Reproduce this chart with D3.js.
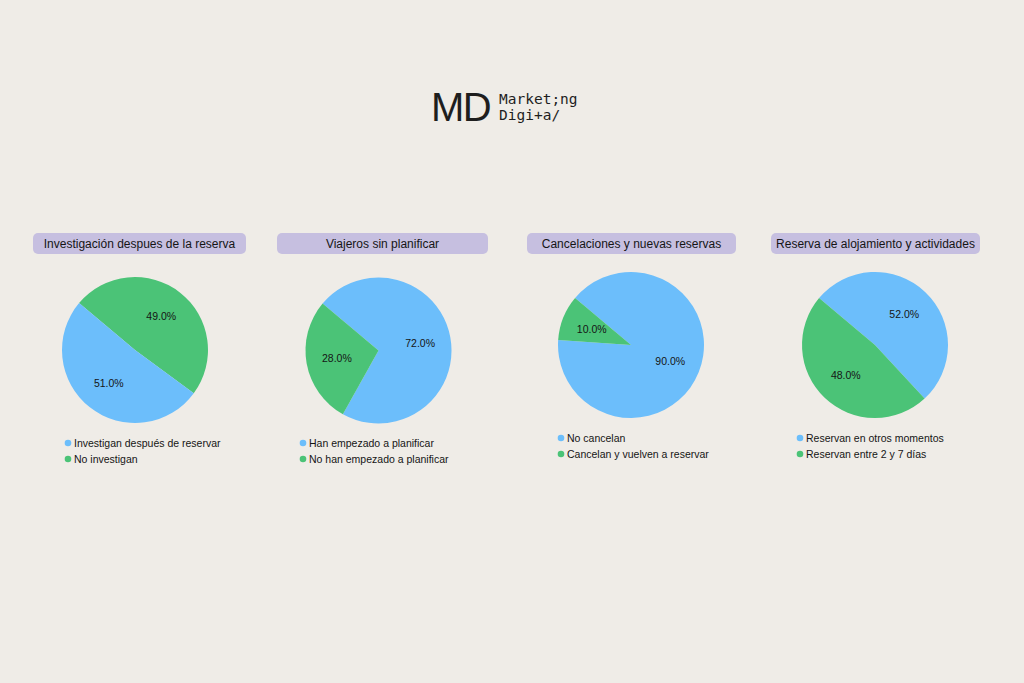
<!DOCTYPE html>
<html><head><meta charset="utf-8">
<script src="https://cdn.jsdelivr.net/npm/d3@7"></script>
<style>html,body{margin:0;padding:0;background:#efece7;}svg{display:block;}</style>
</head><body>
<svg id="c" width="1024" height="683"></svg>
<script>
const titles = ["Investigación despues de la reserva","Viajeros sin planificar","Cancelaciones y nuevas reservas","Reserva de alojamiento y actividades"];
const labelsA = ["Investigan después de reservar","Han empezado a planificar","No cancelan","Reservan en otros momentos"];
const labelsB = ["No investigan","No han empezado a planificar","Cancelan y vuelven a reservar","Reservan entre 2 y 7 días"];
const valuesA = [51,72,90,52];
const valuesB = [49,28,10,48];
const drawBFirst = [true,false,false,false];
const colors = ["#6cbefb","#4bc377"];

const layout = [
  {cx:135, cy:350, bx:33, bw:213, lx:68, ly:443},
  {cx:378.5, cy:350.5, bx:277, bw:211, lx:303, ly:443},
  {cx:631, cy:345, bx:527, bw:209, lx:561, ly:438},
  {cx:875, cy:345, bx:771, bw:209, lx:800, ly:438}
];
const R = 73;
const svg = d3.select("#c");
const font = "'Liberation Sans', Arial, sans-serif";

// logo
const logo = svg.append("g");
logo.append("text").attr("x",431).attr("y",121).attr("font-family",font).attr("font-size",40).attr("letter-spacing",-1.5).attr("fill","#1e1e1e").text("MD");
logo.append("text").attr("x",499).attr("y",104).attr("font-family","'DejaVu Sans Mono', monospace").attr("font-size",14.5).attr("fill","#1e1e1e").text("Market;ng");
logo.append("text").attr("x",499).attr("y",120).attr("font-family","'DejaVu Sans Mono', monospace").attr("font-size",14.5).attr("fill","#1e1e1e").text("Digi+a/");

const pie = d3.pie().sort(null).startAngle(-50*Math.PI/180).endAngle(-50*Math.PI/180 + 2*Math.PI);
const arc = d3.arc().innerRadius(0).outerRadius(R);
const labelArc = d3.arc().innerRadius(R*0.58).outerRadius(R*0.58);

titles.forEach((t,i)=>{
  const L = layout[i];
  const g = svg.append("g");
  g.append("rect").attr("x",L.bx).attr("y",233).attr("width",L.bw).attr("height",21).attr("rx",5).attr("fill","#c6bfe0");
  g.append("text").attr("x",L.bx+L.bw/2).attr("y",247.5).attr("text-anchor","middle").attr("font-family",font).attr("font-size",12).attr("fill","#151515").text(t);
  let data = [{v:valuesA[i],c:colors[0]},{v:valuesB[i],c:colors[1]}];
  if (drawBFirst[i]) data = data.reverse();
  const arcs = pie.value(d=>d.v)(data);
  const pg = g.append("g").attr("transform",`translate(${L.cx},${L.cy})`);
  pg.selectAll("path").data(arcs).join("path").attr("d",arc).attr("fill",d=>d.data.c);
  pg.selectAll("text").data(arcs).join("text")
    .attr("transform",d=>`translate(${labelArc.centroid(d)})`)
    .attr("text-anchor","middle").attr("dy","0.35em")
    .attr("font-family",font).attr("font-size",10.5).attr("fill","#151515")
    .text(d=>d.data.v.toFixed(1)+"%");
  [labelsA[i],labelsB[i]].forEach((lab,j)=>{
    const y = L.ly + j*16;
    g.append("circle").attr("cx",L.lx).attr("cy",y).attr("r",3.3).attr("fill",colors[j]);
    g.append("text").attr("x",L.lx+6).attr("y",y).attr("dy","0.35em").attr("font-family",font).attr("font-size",10.5).attr("fill","#151515").text(lab);
  });
});
</script>
</body></html>
